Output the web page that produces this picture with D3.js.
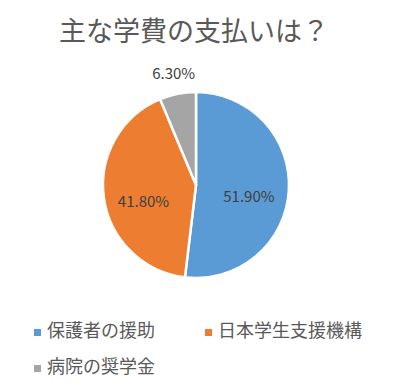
<!DOCTYPE html>
<html>
<head>
<meta charset="utf-8">
<script src="https://cdn.jsdelivr.net/npm/d3@7"></script>
<style>
  body { margin: 0; background: #fff; }
  text { font-family: "Noto Sans CJK JP", "Noto Sans", sans-serif; }
</style>
</head>
<body>
<script>
// data
var categories = ["保護者の援助", "日本学生支援機構", "病院の奨学金"];
var values = [51.9, 41.8, 6.3];
var labels = ["51.90%", "41.80%", "6.30%"];
var colors = ["#5B9BD5", "#ED7D31", "#A5A5A5"];

var width = 399, height = 390;
var cx = 196, cy = 185, radius = 93;

var svg = d3.select("body").append("svg")
    .attr("width", width)
    .attr("height", height);

// title
svg.append("text")
    .attr("x", 194)
    .attr("y", 41)
    .attr("text-anchor", "middle")
    .attr("fill", "#595959")
    .style("font-size", "27px")
    .text("主な学費の支払いは？");

var pie = d3.pie().sort(null).value(function(d) { return d; });
var arc = d3.arc().innerRadius(0).outerRadius(radius);

var g = svg.append("g")
    .attr("transform", "translate(" + cx + "," + cy + ")");

var arcs = pie(values);

g.selectAll("path")
    .data(arcs)
    .enter().append("path")
    .attr("d", arc)
    .attr("fill", function(d, i) { return colors[i]; })
    .attr("stroke", "#fff")
    .attr("stroke-width", 2.5);

// data labels: big slices inside (a bit below centroid like excel), small one outside
var inner = d3.arc().innerRadius(radius * 0.57).outerRadius(radius * 0.57);
var outer = d3.arc().innerRadius(radius * 1.22).outerRadius(radius * 1.22);

g.selectAll(".lbl")
    .data(arcs)
    .enter().append("text")
    .attr("class", "lbl")
    .attr("transform", function(d, i) {
        var p = i === 2 ? outer.centroid(d) : inner.centroid(d);
        var shift = i === 2 ? 0 : 9;
        return "translate(" + p[0] + "," + (p[1] + shift) + ")";
    })
    .attr("text-anchor", "middle")
    .attr("dy", "0.35em")
    .attr("fill", "#404040")
    .style("font-size", "15px")
    .text(function(d, i) { return labels[i]; });

// legend
var legendPos = [[34, 337], [205, 337], [34, 373]];
var legend = svg.selectAll(".legend")
    .data(categories)
    .enter().append("g")
    .attr("class", "legend")
    .attr("transform", function(d, i) { return "translate(" + legendPos[i][0] + "," + legendPos[i][1] + ")"; });

legend.append("rect")
    .attr("x", 0)
    .attr("y", -8)
    .attr("width", 7)
    .attr("height", 7)
    .attr("fill", function(d, i) { return colors[i]; });

legend.append("text")
    .attr("x", 13)
    .attr("y", 0)
    .attr("fill", "#595959")
    .style("font-size", "18px")
    .text(function(d) { return d; });
</script>
</body>
</html>
